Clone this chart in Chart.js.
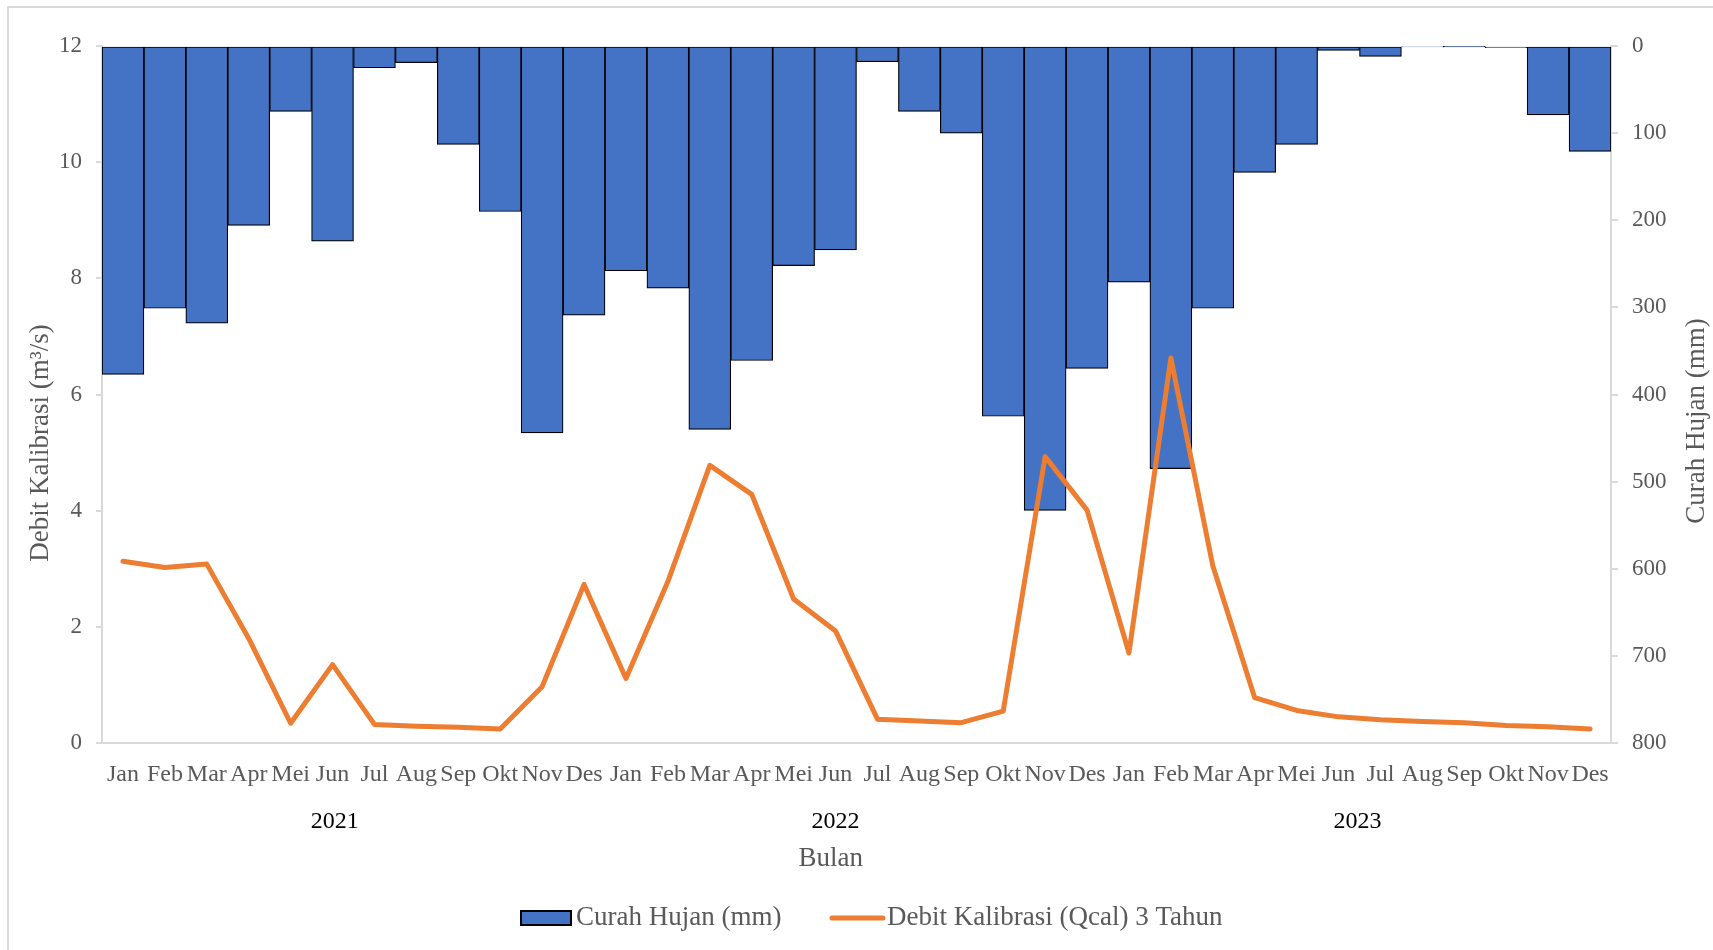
<!DOCTYPE html>
<html>
<head>
<meta charset="utf-8">
<title>Curah Hujan dan Debit Kalibrasi</title>
<script src="https://cdn.jsdelivr.net/npm/chart.js@4.4.1/dist/chart.umd.min.js"></script>
<style>
	html, body { margin: 0; padding: 0; background: #fff; }
	canvas { display: block; }
</style>
</head>
<body>
<canvas id="myChart" width="1713" height="950"></canvas>
<script>
var months = ["Jan", "Feb", "Mar", "Apr", "Mei", "Jun", "Jul", "Aug", "Sep", "Okt", "Nov", "Des"];
var years = ["2021", "2022", "2023"];

// curah hujan bulanan (mm)
var rain2021 = [377, 301, 318, 206, 75, 224, 25, 19, 113, 190, 444, 309];
var rain2022 = [258, 278, 440, 361, 252, 234, 18, 75, 100, 425, 533, 370];
var rain2023 = [271, 485, 301, 145, 113, 5, 12, 1, 0.5, 2, 79, 121];

// debit kalibrasi (m3/s)
var q2021 = [3.13, 3.02, 3.08, 1.8, 0.34, 1.35, 0.32, 0.29, 0.27, 0.24, 0.97, 2.73];
var q2022 = [1.11, 2.78, 4.78, 4.28, 2.48, 1.93, 0.41, 0.38, 0.35, 0.55, 4.93, 4.01];
var q2023 = [1.55, 6.63, 3.05, 0.78, 0.56, 0.45, 0.4, 0.37, 0.35, 0.3, 0.28, 0.24];

var leftTicks = { min: 0, max: 12, step: 2 };
var rightTicks = { min: 0, max: 800, step: 100 };

var rainLabel = "Curah Hujan (mm)";
var qLabel = "Debit Kalibrasi (Qcal) 3 Tahun";

var labels = months.concat(months, months);
var rain = rain2021.concat(rain2022, rain2023);
var debit = q2021.concat(q2022, q2023);

var serif = '"Liberation Serif", "Times New Roman", serif';
var grey = "#595959";
var blue = "#4472C4";
var orange = "#ED7D31";

// frame, year labels, axis titles and legend
const extraText = {
	id: "extraText",
	beforeDraw: function (chart) {
		const ctx = chart.ctx;
		ctx.save();
		ctx.strokeStyle = "#d9d9d9";
		ctx.lineWidth = 2;
		ctx.beginPath();
		ctx.moveTo(8, chart.height);
		ctx.lineTo(8, 7);
		ctx.lineTo(chart.width, 7);
		ctx.stroke();
		ctx.restore();
	},
	afterDraw: function (chart) {
		const ctx = chart.ctx;
		const xs = chart.scales.x;
		const area = chart.chartArea;
		const yearAt = [5.05, 17, 29.45];
		ctx.save();
		ctx.textAlign = "center";
		ctx.textBaseline = "middle";

		ctx.font = "24px " + serif;
		ctx.fillStyle = "#000";
		years.forEach(function (y, i) {
			ctx.fillText(y, xs.getPixelForValue(yearAt[i]), 822);
		});

		ctx.font = "27px " + serif;
		ctx.fillStyle = grey;
		ctx.fillText("Bulan", area.left + (area.right - area.left) * 0.483, 859);

		ctx.save();
		ctx.translate(41, 443);
		ctx.rotate(-Math.PI / 2);
		ctx.fillText("Debit Kalibrasi (m\u00B3/s)", 0, 0);
		ctx.restore();

		ctx.save();
		ctx.translate(1697, 421);
		ctx.rotate(-Math.PI / 2);
		ctx.fillText(rainLabel, 0, 0);
		ctx.restore();

		// legend
		const ly = 918;
		ctx.textAlign = "left";
		ctx.fillStyle = blue;
		ctx.fillRect(521, ly - 7, 50, 14);
		ctx.strokeStyle = "#000";
		ctx.lineWidth = 2;
		ctx.strokeRect(521, ly - 7, 50, 14);
		ctx.fillStyle = grey;
		ctx.fillText(rainLabel, 576, ly);

		ctx.strokeStyle = orange;
		ctx.lineWidth = 5;
		ctx.lineCap = "round";
		ctx.beginPath();
		ctx.moveTo(832, ly);
		ctx.lineTo(883, ly);
		ctx.stroke();
		ctx.fillText(qLabel, 887, ly);
		ctx.restore();
	},
};

const ctx = document.getElementById("myChart").getContext("2d");
const myChart = new Chart(ctx, {
	type: "bar",
	data: {
		labels: labels,
		datasets: [
			{
				type: "line",
				label: qLabel,
				data: debit,
				yAxisID: "y",
				borderColor: orange,
				backgroundColor: orange,
				borderWidth: 5,
				borderCapStyle: "round",
				borderJoinStyle: "round",
				pointRadius: 0,
				tension: 0,
				order: 1,
			},
			{
				label: rainLabel,
				data: rain,
				yAxisID: "y1",
				backgroundColor: blue,
				borderColor: "#000",
				borderWidth: 1.2,
				borderSkipped: false,
				categoryPercentage: 1,
				barPercentage: 1,
				order: 2,
			},
		],
	},
	options: {
		responsive: false,
		animation: false,
		devicePixelRatio: 1,
		layout: { padding: { top: 46, left: 0, right: 0, bottom: 0 } },
		plugins: {
			legend: { display: false },
			tooltip: { enabled: false },
		},
		scales: {
			x: {
				offset: true,
				grid: { display: false, drawTicks: false },
				border: { display: true, color: "#d9d9d9", width: 2 },
				ticks: {
					autoSkip: false,
					maxRotation: 0,
					minRotation: 0,
					padding: 17,
					color: grey,
					font: { family: serif, size: 24 },
				},
				afterFit: function (scale) {
					scale.height = 207;
				},
			},
			y: {
				position: "left",
				min: leftTicks.min,
				max: leftTicks.max,
				grid: { drawOnChartArea: false, drawTicks: true, tickLength: 6, color: "#d9d9d9", lineWidth: 2 },
				border: { display: true, color: "#d9d9d9", width: 2 },
				ticks: {
					stepSize: leftTicks.step,
					padding: 14,
					color: grey,
					font: { family: serif, size: 23 },
				},
				afterFit: function (scale) {
					scale.width = 102;
				},
			},
			y1: {
				position: "right",
				reverse: true,
				min: rightTicks.min,
				max: rightTicks.max,
				grid: { drawOnChartArea: false, drawTicks: true, tickLength: 7, color: "#d9d9d9", lineWidth: 2 },
				border: { display: true, color: "#d9d9d9", width: 2 },
				ticks: {
					stepSize: rightTicks.step,
					padding: 14,
					color: grey,
					font: { family: serif, size: 23 },
				},
				afterFit: function (scale) {
					scale.width = 102;
				},
			},
		},
	},
	plugins: [extraText],
});
</script>
</body>
</html>
